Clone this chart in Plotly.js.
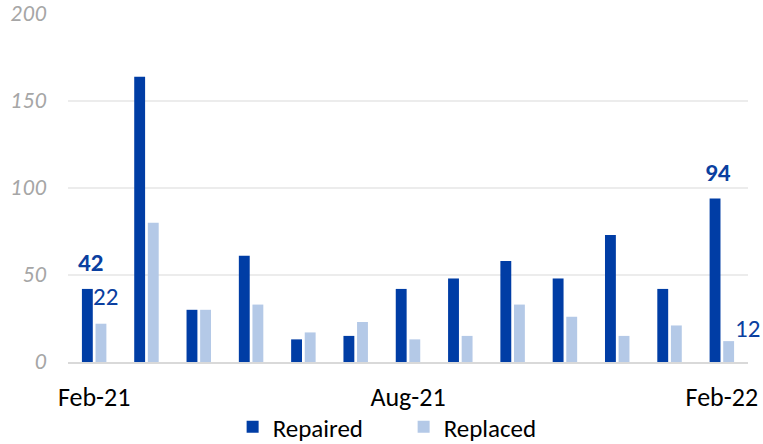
<!DOCTYPE html>
<html><head><meta charset="utf-8">
<script src="https://cdn.plot.ly/plotly-3.0.1.min.js"></script>
<style>body{margin:0;background:#fff}#c{width:763px;height:444px}</style>
</head><body><div id="c"></div>
<script>
const months = ["Feb-21","Mar-21","Apr-21","May-21","Jun-21","Jul-21","Aug-21","Sep-21","Oct-21","Nov-21","Dec-21","Jan-22","Feb-22"];
const repaired = [42,164,30,61,13,15,42,48,58,48,73,42,94];
const replaced = [22,80,30,33,17,23,13,15,33,26,15,21,12];
const shownTicks = ["Feb-21","Aug-21","Feb-22"];
const yTicks = [0,50,100,150,200];
const fontFam = "Carlito, Calibri, Lato, 'Open Sans', sans-serif";

const traces = [
  {type:"bar", name:"Repaired", x:months, y:repaired, marker:{color:"#003DA5"}, hoverinfo:"x+y"},
  {type:"bar", name:"Replaced", x:months, y:replaced, marker:{color:"#B4C9E7"}, hoverinfo:"x+y"}
];
const last = months.length-1;
const annotations = [
  {x:months[0], y:repaired[0], text:"<b>"+repaired[0]+"</b>", showarrow:false, xshift:-4, yshift:26, font:{size:25, color:"#0A3FA0", family:fontFam}},
  {x:months[0], y:replaced[0], text:String(replaced[0]), showarrow:false, xshift:11, yshift:27, font:{size:25, color:"#0A3FA0", family:fontFam}},
  {x:months[last], y:repaired[last], text:"<b>"+repaired[last]+"</b>", showarrow:false, xshift:-4, yshift:26, font:{size:25, color:"#0A3FA0", family:fontFam}},
  {x:months[last], y:replaced[last], text:String(replaced[last]), showarrow:false, xshift:26, yshift:13, font:{size:25, color:"#0A3FA0", family:fontFam}}
];
const layout = {
  width:763, height:444,
  margin:{l:68, r:15, t:14, b:82},
  paper_bgcolor:"#fff", plot_bgcolor:"#fff",
  barmode:"group", bargap:0.48, bargroupgap:0.2,
  showlegend:true,
  legend:{orientation:"h", x:0.529, xanchor:"center", xref:"container", y:17/444, yanchor:"middle", yref:"container",
    bgcolor:"rgba(0,0,0,0)",
    font:{size:25, color:"#000", family:fontFam}, entrywidth:126, entrywidthmode:"pixels"},
  xaxis:{type:"category", range:[-0.5, months.length-0.5], autorange:false, tickmode:"array", tickvals:shownTicks, ticktext:shownTicks,
    tickfont:{size:26, color:"#000", family:fontFam}, ticks:"", showgrid:false, automargin:false,
    showline:true, linecolor:"#d9d9d9", linewidth:1.5, ticklabelstandoff:11, fixedrange:true},
  yaxis:{range:[0,200], tickmode:"array", tickvals:yTicks, ticktext:yTicks.map(String), automargin:false,
    tickfont:{size:21, color:"#a6a6a6", family:"Lato, sans-serif", style:"italic"},
    showgrid:true, gridcolor:"#ececec", gridwidth:1.5, zeroline:false, showline:false,
    ticks:"", ticklabelstandoff:20, fixedrange:true},
  annotations:annotations,
  font:{family:fontFam}
};
Plotly.newPlot("c", traces, layout, {displayModeBar:false, staticPlot:true});
</script></body></html>
